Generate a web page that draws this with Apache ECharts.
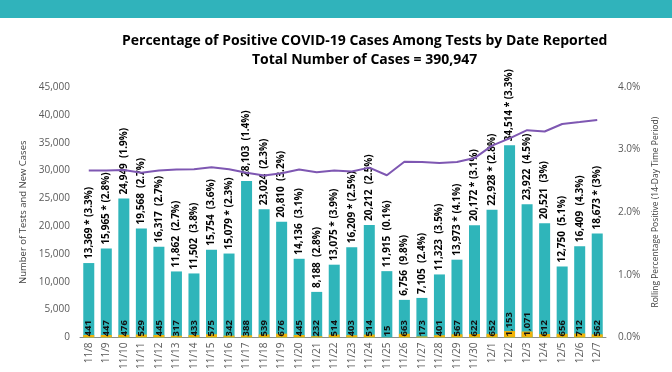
<!DOCTYPE html>
<html>
<head>
<meta charset="utf-8">
<script src="https://cdn.jsdelivr.net/npm/echarts@6/dist/echarts.min.js"></script>
<style>
html,body{margin:0;padding:0;background:#fff;}
#c{width:672px;height:372px;}
</style>
</head>
<body>
<div id="c"></div>
<script>
var dates = ['11/8','11/9','11/10','11/11','11/12','11/13','11/14','11/15','11/16','11/17','11/18','11/19','11/20','11/21','11/22','11/23','11/24','11/25','11/26','11/27','11/28','11/29','11/30','12/1','12/2','12/3','12/4','12/5','12/6','12/7'];
var tests = [13369,15965,24949,19568,16317,11862,11502,15754,15079,28103,23024,20810,14136,8188,13075,16209,20212,11915,6756,7105,11323,13973,20172,22928,34514,23922,20521,12750,16409,18673];
var cases = [441,447,476,529,445,317,433,575,342,388,539,676,445,232,514,403,514,15,663,173,401,567,622,652,1153,1071,612,656,712,562];
var stars = [1,1,0,0,0,0,0,0,1,0,0,0,0,0,1,1,0,0,0,0,0,1,1,1,1,0,0,0,0,1];
var pctLabels = ['3.3%','2.8%','1.9%','2.7%','2.7%','2.7%','3.8%','3.6%','2.3%','1.4%','2.3%','3.2%','3.1%','2.8%','3.9%','2.5%','2.5%','0.1%','9.8%','2.4%','3.5%','4.1%','3.1%','2.8%','3.3%','4.5%','3%','5.1%','4.3%','3%'];
var rolling = [2.665,2.665,2.676,2.629,2.665,2.681,2.686,2.717,2.686,2.629,2.587,2.623,2.681,2.638,2.665,2.649,2.712,2.591,2.807,2.802,2.786,2.802,2.865,3.063,3.179,3.310,3.289,3.409,3.440,3.472];
var leftTicks = {min:0, max:45000, interval:5000};
var rightTicks = {min:0, max:4, interval:1};

function fmt(n){ return n.toString().replace(/\B(?=(\d{3})+(?!\d))/g, ','); }

var font = '"Open Sans", "Liberation Sans", sans-serif';
var chart = echarts.init(document.getElementById('c'), null, {renderer:'canvas'});
chart.setOption({
  animation:false,
  textStyle:{fontFamily:font},
  graphic:[{type:'rect', left:0, top:0, shape:{width:672, height:18}, style:{fill:'#30B3BB'}, z:-1}],
  title:[
    {text:'Percentage of Positive COVID-19 Cases Among Tests by Date Reported', left:117, top:29,
     textStyle:{fontSize:14, fontWeight:'bold', color:'#000', fontFamily:font}},
    {text:'Total Number of Cases = 390,947', left:247, top:48,
     textStyle:{fontSize:14, fontWeight:'bold', color:'#000', fontFamily:font}}
  ],
  grid:{left:80, right:66, top:87, bottom:30.5},
  xAxis:{type:'category', data:dates,
    axisLine:{lineStyle:{color:'#8c8c8c', width:1}},
    axisTick:{show:false},
    axisLabel:{rotate:90, color:'#595959', fontSize:10, margin:5, interval:0}},
  yAxis:[
    {type:'value', min:leftTicks.min, max:leftTicks.max, interval:leftTicks.interval,
     name:'Number of Tests and New Cases', nameLocation:'middle', nameGap:40, nameRotate:90,
     nameTextStyle:{color:'#404040', fontSize:9.5},
     splitLine:{show:false}, axisLine:{show:false}, axisTick:{show:false},
     axisLabel:{color:'#595959', fontSize:10, margin:10, formatter:function(v){return fmt(v);}}},
    {type:'value', min:rightTicks.min, max:rightTicks.max, interval:rightTicks.interval,
     name:'Rolling Percentage Positive (14-Day Time Period)', nameLocation:'middle', nameGap:47, nameRotate:90,
     nameTextStyle:{color:'#404040', fontSize:8.5, verticalAlign:'middle'},
     splitLine:{show:false}, axisLine:{show:false}, axisTick:{show:false},
     axisLabel:{color:'#595959', fontSize:10, margin:12, formatter:function(v){return v.toFixed(1)+'%';}}}
  ],
  series:[
    {type:'bar', name:'Tests', data:tests, barWidth:11, barGap:'-100%',
     itemStyle:{color:'#2FB5BA'},
     label:{show:true, position:'top', rotate:90, align:'left', verticalAlign:'middle', distance:4,
       color:'#000', fontSize:10, fontWeight:'bold',
       formatter:function(p){ var i=p.dataIndex; return fmt(tests[i]) + (stars[i] ? ' * ' : '  ') + '(' + pctLabels[i] + ')'; }},
     z:2},
    {type:'bar', name:'Cases', data:cases, barWidth:11, barGap:'-100%',
     itemStyle:{color:'#F2B308'},
     label:{show:true, position:'insideBottom', rotate:90, align:'left', verticalAlign:'middle', distance:1,
       color:'#111', fontSize:9.5, fontWeight:'bold',
       formatter:function(p){ return fmt(p.value); }},
     z:3},
    {type:'line', name:'Rolling', yAxisIndex:1, data:rolling, symbol:'none',
     lineStyle:{color:'#7E57B2', width:2}, z:4}
  ]
});
</script>
</body>
</html>
